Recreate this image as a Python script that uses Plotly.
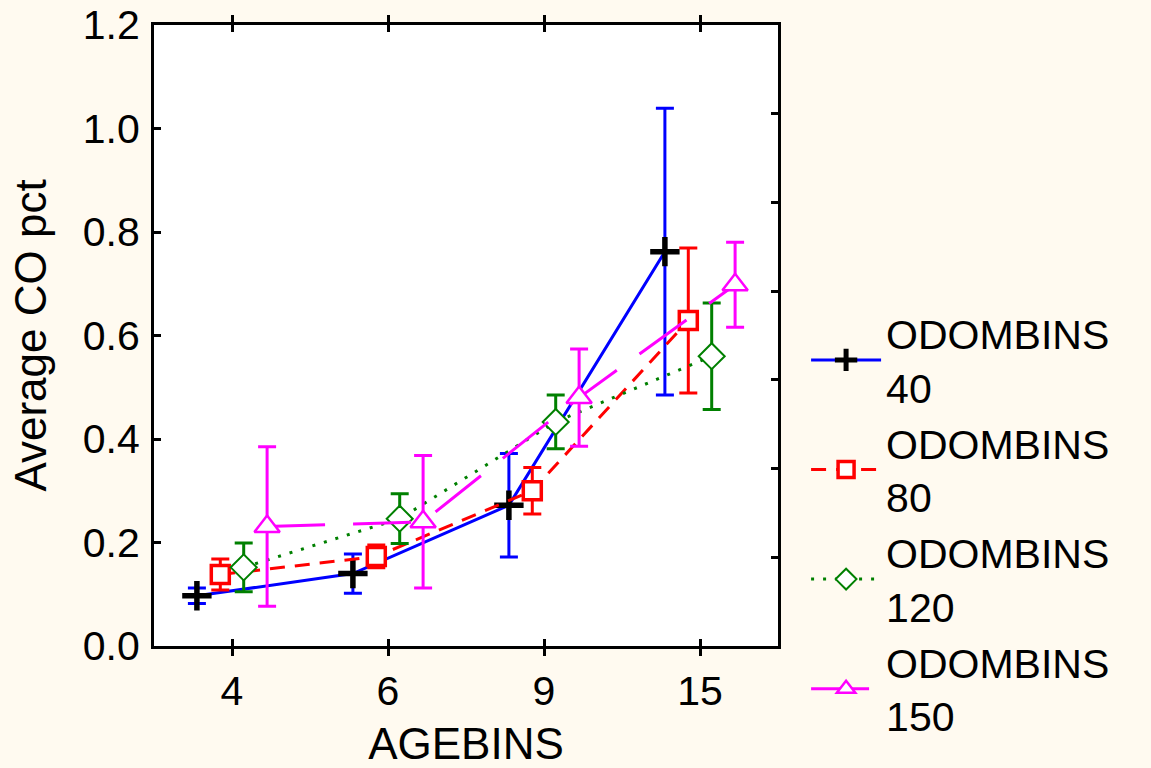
import plotly.graph_objects as go

# ---------------- data ----------------
agebins = ["4", "6", "9", "15"]
series_names = ["ODOMBINS<br>40", "ODOMBINS<br>80", "ODOMBINS<br>120", "ODOMBINS<br>150"]

co_40 = [0.097, 0.140, 0.272, 0.762]
err_40 = [0.015, 0.038, 0.100, 0.277]

co_80 = [0.138, 0.173, 0.300, 0.629]
err_80 = [0.030, 0.022, 0.045, 0.140]

co_120 = [0.152, 0.246, 0.433, 0.560]
err_120 = [0.047, 0.048, 0.052, 0.103]

co_150 = [0.231, 0.240, 0.480, 0.698]
err_150 = [0.154, 0.128, 0.094, 0.082]

y_ticks = [0.0, 0.2, 0.4, 0.6, 0.8, 1.0, 1.2]

# ---------------- styling ----------------
values = [co_40, co_80, co_120, co_150]
errors = [err_40, err_80, err_120, err_150]
offsets = [-0.225, -0.075, 0.075, 0.225]
colors = ["#0000FF", "#FF0000", "#008000", "#FF00FF"]
dashes = ["solid", "15px,10px", "3px,9px", "58px,28px"]
markers = [
    dict(symbol="cross-thin", size=21, color="black", line=dict(color="black", width=5.5)),
    dict(symbol="square", size=18, color="white", line=dict(color="#FF0000", width=3.5)),
    dict(symbol="diamond", size=20, color="white", line=dict(color="#008000", width=2)),
    dict(symbol="triangle-up", size=22, color="white", line=dict(color="#FF00FF", width=2.5)),
]

FONT = "Liberation Sans, Arial, sans-serif"
BG = "#FFFAF0"

fig = go.Figure()
for name, vals, errs, off, col, dash, mk in zip(series_names, values, errors, offsets, colors, dashes, markers):
    xs = [i + off for i in range(len(agebins))]
    fig.add_trace(go.Scatter(
        x=xs, y=vals, name=name, mode="lines+markers",
        line=dict(color=col, width=3, dash=dash),
        marker=mk,
        error_y=dict(type="data", array=errs, visible=True, color=col, thickness=3, width=9),
        cliponaxis=False,
    ))

# invisible trace to host the right-hand tick axis
fig.add_trace(go.Scatter(x=[], y=[], yaxis="y2", showlegend=False, hoverinfo="skip"))

fig.update_layout(
    width=1151, height=768,
    paper_bgcolor=BG,
    plot_bgcolor="white",
    margin=dict(l=154, r=373, t=25, b=122, autoexpand=False),
    font=dict(family=FONT, size=41, color="black"),
    showlegend=True,
    legend=dict(
        x=1.045, y=0.557, xanchor="left", yanchor="top",
        bgcolor="rgba(0,0,0,0)",
        font=dict(family=FONT, size=41, color="black"),
        itemwidth=70,
        tracegroupgap=0,
    ),
    xaxis=dict(
        range=[-0.5, 3.5],
        tickmode="array", tickvals=list(range(len(agebins))), ticktext=agebins,
        showgrid=False, zeroline=False,
        showline=True, linecolor="black", linewidth=3, mirror="allticks",
        ticks="inside", ticklen=7, tickwidth=2.5, tickcolor="black",
        ticklabelstandoff=7,
        title=dict(text="AGEBINS", font=dict(family=FONT, size=44), standoff=21),
        tickfont=dict(family=FONT, size=41),
    ),
    yaxis=dict(
        range=[0, 1.2],
        tickmode="array", tickvals=y_ticks, ticktext=[f"{v:.1f}" for v in y_ticks],
        showgrid=False, zeroline=False,
        showline=True, linecolor="black", linewidth=3, mirror=True,
        ticks="inside", ticklen=7, tickwidth=2.5, tickcolor="black",
        ticklabelstandoff=3,
        title=dict(text="Average CO pct", font=dict(family=FONT, size=44), standoff=23),
        tickfont=dict(family=FONT, size=41),
    ),
    yaxis2=dict(
        overlaying="y", side="right", range=[0, 7],
        tickmode="linear", tick0=0, dtick=1,
        showticklabels=False, showgrid=False, zeroline=False, showline=False,
        ticks="inside", ticklen=7, tickwidth=2.5, tickcolor="black",
    ),
)

fig.write_html(
    "out.html",
    config={"displayModeBar": False},
    post_script=(
        "document.body.style.margin='0';"
        "document.body.style.background='" + BG + "';"
    ),
)
